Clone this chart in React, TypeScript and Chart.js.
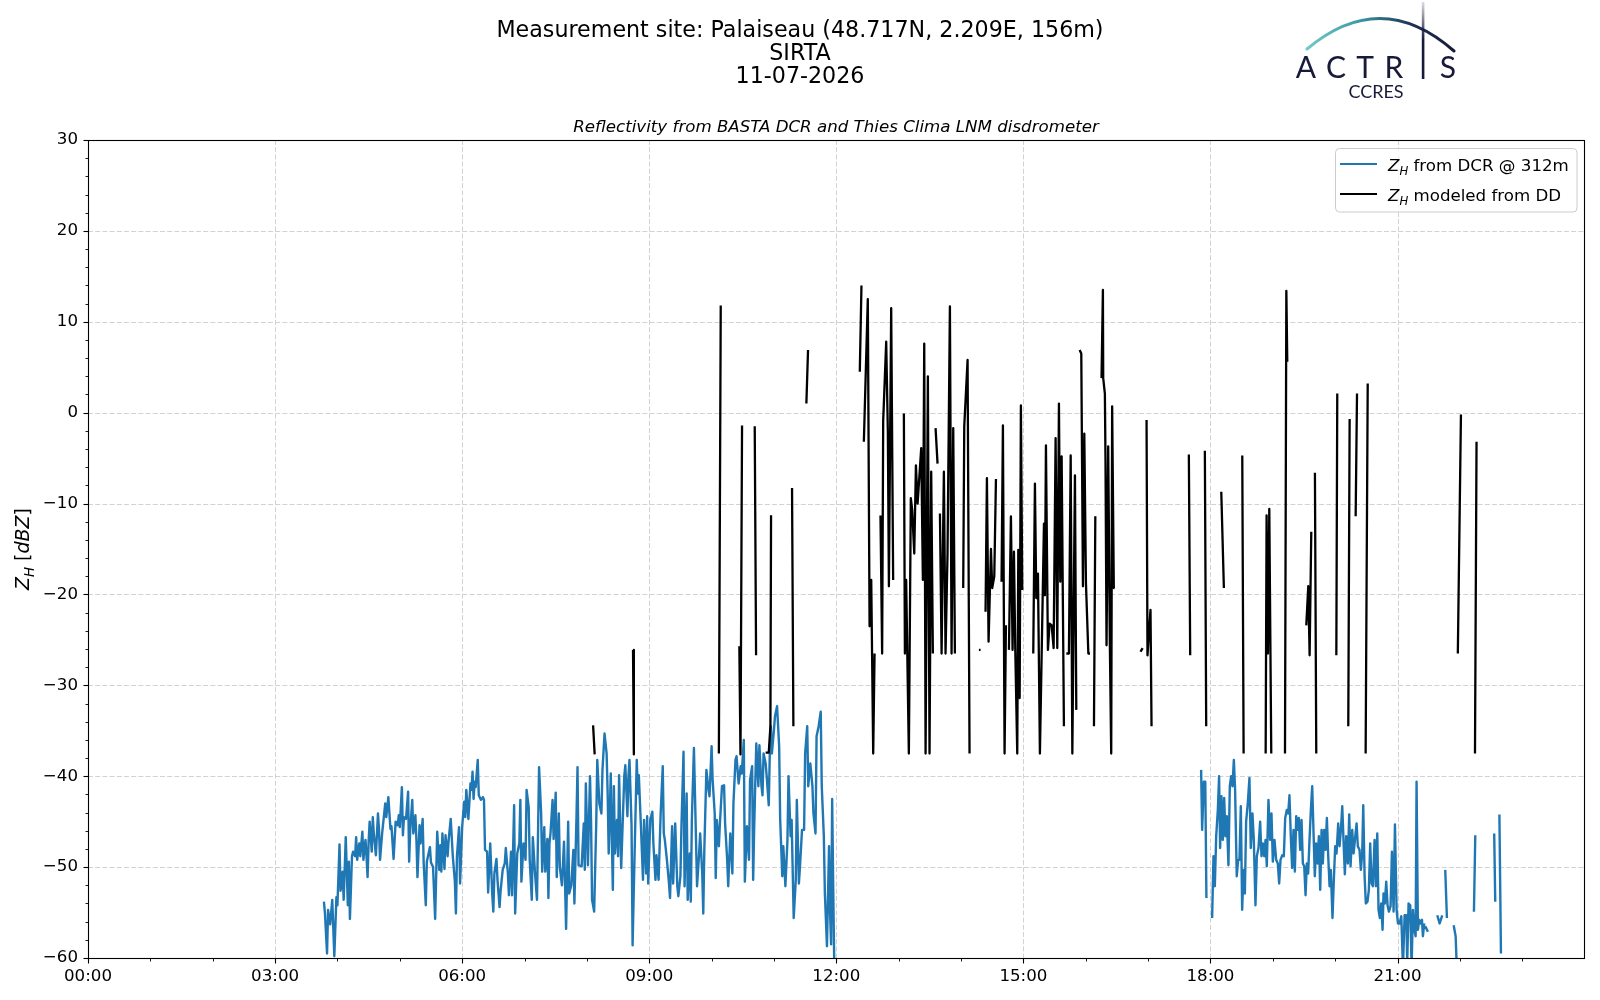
import React, { useEffect, useRef } from "react";
import { Chart, registerables } from "chart.js";

Chart.register(...registerables);

const FONT = '"DejaVu Sans", Verdana, sans-serif';
const LOGO_FONT = 'Lato, "Open Sans", sans-serif';
const BASE_SIZE = 16.67;

const TITLE_LINES = ["Measurement site: Palaiseau (48.717N, 2.209E, 156m)", "SIRTA", "11-07-2026"];
const AXES_TITLE = "Reflectivity from BASTA DCR and Thies Clima LNM disdrometer";
const X_MAJOR_HOURS = [0, 3, 6, 9, 12, 15, 18, 21];
const X_MINOR_HOURS = [1, 2, 4, 5, 7, 8, 10, 11, 13, 14, 16, 17, 19, 20, 22, 23];
const X_MIN = 0;
const X_MAX = 23.99;
const Y_TICKS = [-60, -50, -40, -30, -20, -10, 0, 10, 20, 30];
const Y_MIN = -60;
const Y_MAX = 30;

const DCR_COLOR = "#1f77b4";
const DD_COLOR = "#000000";
const GRID_COLOR = "#d2d2d2";

type Pt = [number, number];

// Z_H from DCR @ 312m : [minutes since 00:00, dBZ]
const dcrMorning: Pt[] = [
  [227, -53.8], [228, -55.1], [230, -59.5], [231, -54.7], [233, -56.3], [235, -53.6], [237, -59.8], [239, -53.3], [240, -54.2], [242, -47.5],
  [243, -52.6], [245, -50.5], [246, -53.6], [248, -46.7], [250, -54.2], [251, -49.4], [252, -55.7], [254, -48.8], [255, -48.3], [257, -48.8],
  [258, -46.7], [259, -49.2], [261, -47.4], [262, -48.8], [264, -46.1], [265, -49.2], [267, -47.0], [268, -48.8], [269, -51.1], [270, -47.2],
  [271, -45.0], [273, -48.3], [274, -44.5], [275, -46.3], [277, -48.7], [279, -44.1], [280, -45.9], [281, -49.2], [283, -46.3], [286, -43.0],
  [287, -44.5], [289, -42.3], [291, -45.8], [292, -45.5], [294, -49.1], [296, -45.0], [298, -45.4], [299, -44.3], [300, -45.6], [302, -41.2],
  [303, -46.5], [304, -44.5], [306, -44.7], [308, -41.7], [309, -49.4], [310, -45.9], [312, -42.6], [313, -46.3], [315, -44.3], [316, -47.0],
  [317, -51.1], [319, -45.4], [320, -47.4], [322, -44.7], [323, -49.6], [325, -54.2], [326, -49.4], [329, -47.8], [330, -49.5], [332, -50.0],
  [334, -55.7], [336, -46.1], [338, -50.3], [339, -47.6], [340, -50.5], [341, -46.3], [343, -50.2], [344, -46.5], [346, -48.8], [347, -47.0],
  [349, -44.7], [351, -48.8], [353, -51.6], [354, -55.1], [355, -48.8], [357, -45.6], [358, -51.8], [360, -45.6], [361, -44.1], [362, -42.8],
  [363, -44.5], [364, -41.5], [366, -44.7], [368, -40.8], [369, -41.5], [370, -39.5], [371, -42.5], [372, -40.6], [373, -41.2], [375, -38.2],
  [376, -42.1], [378, -42.6], [380, -42.3], [381, -42.6], [382, -48.1], [384, -48.3], [385, -52.8], [387, -47.4], [389, -53.1], [390, -54.9],
  [391, -50.7], [393, -49.1], [394, -51.4], [396, -54.4], [397, -52.6], [399, -50.3], [401, -49.6], [402, -47.9], [404, -50.7], [405, -53.1],
  [407, -48.3], [408, -53.1], [410, -43.2], [411, -55.1], [413, -48.5], [415, -47.4], [416, -42.6], [417, -51.6], [419, -47.4], [421, -49.2],
  [422, -41.5], [424, -43.4], [425, -49.2], [427, -53.6], [428, -46.7], [430, -50.5], [432, -53.6], [434, -39.0], [436, -44.1], [437, -50.5],
  [439, -45.6], [440, -50.5], [442, -46.9], [443, -53.4], [444, -47.4], [445, -46.3], [447, -42.6], [448, -46.9], [450, -41.8], [451, -51.1],
  [453, -44.1], [454, -50.0], [456, -52.0], [458, -47.2], [459, -51.8], [460, -56.8], [462, -45.0], [463, -52.9], [465, -52.0], [467, -48.1],
  [468, -54.0], [470, -44.5], [471, -39.0], [472, -49.8], [475, -49.9], [477, -45.2], [478, -50.3], [479, -40.8], [481, -49.8], [483, -40.0],
  [484, -44.8], [485, -53.6], [487, -54.9], [489, -45.2], [490, -38.2], [492, -43.0], [494, -44.1], [495, -39.3], [497, -35.3], [499, -37.5],
  [500, -41.9], [501, -48.5], [503, -39.7], [504, -47.0], [505, -52.5], [506, -41.1], [507, -48.5], [509, -44.8], [510, -48.8], [511, -39.9],
  [513, -50.1], [515, -43.3], [516, -40.0], [517, -38.8], [519, -44.4], [520, -40.0], [521, -38.2], [523, -45.5], [524, -58.6], [526, -48.1],
  [528, -38.2], [529, -41.9], [530, -39.9], [532, -45.5], [534, -51.4], [535, -44.8], [537, -50.7], [538, -44.4], [539, -51.8], [541, -44.8],
  [543, -43.9], [544, -47.4], [546, -51.4], [547, -48.7], [549, -51.4], [551, -44.1], [553, -38.9], [554, -46.3], [555, -47.0], [557, -49.2],
  [559, -51.8], [560, -53.4], [562, -45.5], [563, -51.8], [565, -45.2], [567, -52.1], [568, -53.2], [570, -51.0], [571, -45.5], [573, -37.3],
  [574, -52.1], [576, -41.9], [577, -53.6], [579, -48.5], [580, -53.8], [581, -44.8], [583, -36.9], [584, -41.9], [586, -52.1], [588, -48.5],
  [589, -46.3], [591, -50.7], [592, -55.1], [593, -48.1], [595, -39.3], [597, -41.5], [598, -42.2], [600, -36.7], [601, -40.4], [603, -44.1],
  [604, -51.2], [605, -44.8], [607, -47.7], [608, -45.2], [610, -41.1], [612, -41.0], [613, -45.2], [615, -49.2], [616, -52.1], [618, -46.3],
  [620, -50.7], [621, -43.0], [623, -38.2], [624, -37.8], [626, -40.8], [628, -38.9], [629, -39.7], [631, -36.0], [632, -51.6], [634, -45.5],
  [636, -49.2], [637, -40.4], [639, -38.9], [640, -51.4], [641, -45.5], [643, -36.4], [645, -41.1], [646, -36.6], [648, -41.1], [649, -42.1],
  [650, -37.5], [652, -38.6], [653, -40.0], [655, -43.2], [656, -37.5], [657, -34.5], [658, -37.5], [660, -34.9], [661, -33.4], [663, -32.3],
  [665, -36.7], [666, -44.8], [668, -51.0], [669, -47.7], [671, -52.1], [673, -47.0], [674, -40.0], [676, -46.6], [677, -44.8], [679, -55.6],
  [681, -51.4], [682, -42.6], [684, -51.8], [685, -50.0], [687, -45.9], [689, -45.9], [690, -37.5], [692, -34.5], [693, -41.1], [695, -38.6],
  [697, -41.1], [698, -44.1], [700, -46.3], [701, -35.6], [703, -34.5], [705, -32.9], [706, -41.1], [708, -46.6], [709, -52.9], [711, -58.7],
  [713, -47.7], [714, -55.0], [715, -58.5], [716, -42.5], [717, -52.0], [718, -60.5], [719, -61.0],
];

const dcrEveningStart: Pt[] = [
  [1071.0, -39.3], [1072.0, -45.9], [1073.6, -40.6], [1075.0, -40.6], [1076.1, -53.4],
];

const dcrEvening: Pt[] = [
  [1081.6, -55.6], [1082.9, -48.8], [1084.2, -52.1], [1085.5, -46.6], [1087.1, -43.7], [1088.3, -40.0], [1089.3, -47.9], [1090.6, -42.2],
  [1091.9, -47.0], [1093.2, -42.4], [1094.4, -46.6], [1095.7, -44.4], [1097.3, -49.8], [1098.6, -41.1], [1099.9, -40.0], [1101.2, -41.1],
  [1102.5, -38.2], [1103.7, -41.5], [1105.3, -51.0], [1106.6, -49.2], [1107.9, -49.2], [1109.2, -43.3], [1110.5, -54.7], [1111.8, -50.3],
  [1113.1, -52.9], [1114.3, -45.0], [1115.9, -43.0], [1117.5, -40.2], [1118.8, -47.9], [1120.4, -44.1], [1121.7, -47.0], [1123.3, -54.2],
  [1124.6, -48.8], [1126.2, -47.9], [1127.8, -45.0], [1129.1, -48.8], [1130.4, -47.4], [1131.7, -48.8], [1133.0, -47.0], [1134.2, -49.9],
  [1135.8, -42.6], [1137.4, -47.0], [1138.7, -44.1], [1140.0, -49.4], [1141.6, -47.0], [1143.2, -49.2], [1144.8, -49.6], [1146.1, -51.8],
  [1147.4, -49.2], [1149.0, -48.7], [1150.6, -48.8], [1151.9, -44.6], [1153.5, -43.7], [1154.8, -44.1], [1156.0, -42.1], [1157.3, -46.6],
  [1158.6, -50.1], [1159.9, -45.9], [1161.2, -50.5], [1162.5, -44.4], [1163.8, -45.9], [1165.0, -44.6], [1166.3, -48.1], [1167.6, -44.8],
  [1168.9, -49.6], [1170.2, -49.9], [1171.5, -53.1], [1172.7, -49.6], [1174.0, -50.7], [1175.3, -47.0], [1176.6, -43.7], [1177.9, -41.1],
  [1179.2, -46.3], [1180.4, -51.0], [1181.7, -47.4], [1183.0, -49.6], [1184.3, -46.6], [1185.6, -52.5], [1186.9, -45.9], [1188.1, -49.6],
  [1189.4, -45.9], [1190.7, -48.1], [1192.0, -44.6], [1193.3, -48.8], [1194.6, -52.1], [1195.8, -50.3], [1197.4, -55.6], [1198.7, -51.4],
  [1200.0, -47.7], [1201.3, -48.5], [1202.9, -45.2], [1204.2, -47.7], [1205.5, -45.9], [1206.8, -43.3], [1208.0, -47.0], [1209.3, -50.8],
  [1210.6, -46.6], [1212.2, -49.6], [1213.5, -44.2], [1214.8, -49.9], [1216.4, -45.9], [1217.7, -48.5], [1219.0, -47.0], [1220.6, -45.2],
  [1221.8, -47.7], [1223.4, -48.1], [1224.7, -50.3], [1226.0, -48.5], [1227.0, -43.2], [1228.3, -51.0], [1229.5, -54.0], [1231.1, -53.8],
  [1232.4, -52.5], [1233.7, -47.4], [1235.0, -51.8], [1236.3, -52.1], [1237.9, -47.0], [1239.2, -52.1], [1240.5, -46.3], [1241.7, -54.7],
  [1243.0, -55.6], [1244.3, -54.0], [1245.6, -56.9], [1246.5, -52.9], [1247.8, -54.0], [1249.1, -51.6], [1250.4, -54.2], [1251.7, -54.9],
  [1253.3, -54.3], [1254.6, -48.3], [1256.2, -54.9], [1257.5, -45.3], [1259.1, -54.7], [1260.4, -56.2], [1262.0, -56.2], [1263.6, -55.4],
  [1265.2, -61.0], [1266.8, -55.3], [1268.4, -55.3], [1269.3, -60.5], [1270.6, -54.0], [1272.2, -54.2], [1273.5, -61.0], [1274.8, -54.7],
  [1276.1, -56.9], [1277.4, -57.6], [1278.3, -40.6], [1279.6, -56.9], [1280.9, -55.8], [1282.2, -56.2], [1283.5, -55.8], [1284.4, -57.6],
  [1285.7, -56.2],
];

const dcrLateFragments: Pt[][] = [
  [[1286.7, -56.5], [1289.2, -57.1]],
  [[1298.2, -55.3], [1300.5, -56.2], [1303.0, -55.3]],
  [[1305.9, -50.3], [1307.5, -55.6]],
  [[1314.0, -56.4], [1315.9, -57.6], [1317.0, -61.0]],
  [[1333.5, -54.9], [1334.8, -46.5]],
  [[1353.0, -46.3], [1354.0, -53.8]],
  [[1358.0, -44.2], [1359.5, -59.5]],
];

// Z_H modeled from DD : segments of [minutes since 00:00, dBZ]
const ddSegments: Pt[][] = [
  [[486, -34.4], [487.5, -37.6]],
  [[524.4, -26.1], [525.2, -37.6]],
  [[607, -37.5], [608.8, 11.8]],
  [[626.7, -25.7], [627.8, -37.6], [629.3, -1.4]],
  [[641.5, -1.5], [642.8, -26.7]],
  [[652, -37.4], [655, -37.4], [656.6, -34.5], [657.2, -11.3]],
  [[677.4, -8.3], [678.7, -34.5]],
  [[691.2, 1.0], [692.8, 6.9]],
  [[742.6, 4.5], [744.2, 14.0]],
  [[746.5, -3.2], [750.3, 12.5], [752.0, -23.5], [753.6, -18.4], [755.5, -37.5], [756.8, -26.5]],
  [[762.5, -11.3], [764.1, -26.5], [765.1, -0.9], [768.0, 7.8], [769.6, -2.2], [770.6, -19.1], [772.8, 11.5], [774.7, -18.4]],
  [[785.0, -0.1], [786.0, -26.5], [787.2, -18.4], [789.8, -37.5], [791.7, -9.4], [793.0, -10.7], [795.0, -15.5], [796.6, -5.8],
   [798.2, -10.0], [801.7, -3.9], [803.3, -18.4], [804.6, 7.6], [805.9, -37.5], [808.1, 4.0], [809.7, -37.5], [811.3, -6.5], [812.9, -26.5]],
  [[815.5, -1.7], [817.4, -5.6]],
  [[819.7, -11.1], [821.3, -26.5], [823.5, -6.5], [825.1, -26.5], [827.0, -15.5], [829.3, 11.7], [830.9, -26.5], [832.5, -1.7], [834.1, -26.5]],
  [[842.1, -19.3], [843.1, -1.5], [846.3, 5.8], [848.2, -37.5]],
  [[857.2, -26.1], [858.8, -26.1]],
  [[863.6, -21.9], [864.9, -7.2], [866.5, -25.2], [868.8, -15.0], [870.0, -19.3], [872.0, -18.0], [873.6, -7.3]],
  [[879.0, -18.6], [880.3, -1.4], [881.9, -37.5], [883.2, -23.4]],
  [[886.1, -26.1], [888.0, -11.4], [889.6, -26.1], [890.9, -15.3], [892.2, -26.1], [894.1, -37.5], [895.1, -15.1], [896.4, -31.4],
   [897.6, 0.8], [898.9, -19.5]],
  [[909.5, -26.5], [911.1, -7.8], [912.4, -20.4], [914.0, -17.7], [915.9, -37.5], [919.8, -12.2], [920.7, -20.1], [921.7, -3.6],
   [923.6, -26.1], [925.2, -23.2], [927.2, -23.4], [929.1, -25.9], [931.0, -2.8], [932.6, -25.9], [934.2, 1.0], [935.5, -18.6],
   [936.8, -4.8], [939.0, -34.5]],
  [[941.3, -26.5], [943.8, -26.5], [945.5, -4.7], [947.1, -37.5], [949.6, -6.9], [950.9, -32.7]],
  [[954.1, 6.9], [955.7, 6.5], [957.3, -19.1], [958.6, -2.3], [960.2, -18.8], [962.5, -26.5], [964.1, -26.5]],
  [[967.9, -34.5], [969.2, -11.4]],
  [[975.2, 3.8], [976.5, 13.5], [976.8, 3.8], [978.4, 2.1], [979.0, -5.2], [980.0, -25.6], [981.6, -3.7], [983.2, -25.6],
   [984.5, -37.5], [985.4, 0.7], [987.0, -19.3], [987.7, -19.3]],
  [[1012.7, -26.3], [1014.7, -25.9]],
  [[1018.5, -0.8], [1019.4, -26.7], [1022.3, -21.7], [1023.3, -34.5]],
  [[1059.2, -4.6], [1060.5, -26.7]],
  [[1074.6, -4.2], [1075.9, -34.5]],
  [[1090.4, -8.7], [1092.9, -19.3]],
  [[1110.6, -4.7], [1111.9, -37.5]],
  [[1133.1, -37.5], [1134.0, -11.3], [1135.3, -26.5], [1136.6, -10.6], [1138.5, -37.5]],
  [[1151.7, -37.5], [1153.0, 13.4], [1153.9, 5.6]],
  [[1172.2, -23.4], [1174.1, -19.1], [1175.4, -26.7], [1177.0, -13.1]],
  [[1180.5, -6.6], [1181.8, -37.5]],
  [[1201.1, -26.7], [1202.0, 2.1]],
  [[1212.6, -34.5], [1213.9, -0.7]],
  [[1219.7, -11.4], [1221.0, 2.1]],
  [[1229.3, -37.5], [1231.3, 3.2]],
  [[1318, -26.5], [1321, -0.2]],
  [[1334.5, -37.5], [1336, -3.2]],
];

type Part = { t: string; it?: boolean; sub?: boolean };
const LEGEND_ITEMS: { color: string; parts: Part[] }[] = [
  { color: DCR_COLOR, parts: [{ t: "Z", it: true }, { t: "H", it: true, sub: true }, { t: " from DCR @ 312m" }] },
  { color: DD_COLOR, parts: [{ t: "Z", it: true }, { t: "H", it: true, sub: true }, { t: " modeled from DD" }] },
];
const Y_LABEL: Part[] = [{ t: "Z", it: true }, { t: "H", it: true, sub: true }, { t: " [" }, { t: "dBZ", it: true }, { t: "]" }];

function segmentsToPoints(segments: Pt[][]) {
  const out: { x: number; y: number | null }[] = [];
  segments.forEach((seg, i) => {
    if (i > 0) {
      const prev = segments[i - 1][segments[i - 1].length - 1][0];
      out.push({ x: (prev + seg[0][0]) / 2 / 60, y: null });
    }
    seg.forEach(([m, v]) => out.push({ x: m / 60, y: v }));
  });
  return out;
}

function partsWidth(ctx: CanvasRenderingContext2D, parts: Part[], size: number) {
  let w = 0;
  for (const p of parts) {
    const fs = p.sub ? size * 0.7 : size;
    ctx.font = `${p.it ? "italic " : ""}${fs}px ${FONT}`;
    w += ctx.measureText(p.t).width;
  }
  return w;
}

function drawParts(ctx: CanvasRenderingContext2D, parts: Part[], x: number, baseline: number, size: number) {
  let cx = x;
  ctx.textAlign = "left";
  ctx.textBaseline = "alphabetic";
  for (const p of parts) {
    const fs = p.sub ? size * 0.7 : size;
    ctx.font = `${p.it ? "italic " : ""}${fs}px ${FONT}`;
    ctx.fillText(p.t, cx, baseline + (p.sub ? size * 0.22 : 0));
    cx += ctx.measureText(p.t).width;
  }
}

function drawLogo(ctx: CanvasRenderingContext2D) {
  ctx.save();
  const grad = ctx.createLinearGradient(1306, 0, 1458, 0);
  grad.addColorStop(0, "#74cbc6");
  grad.addColorStop(0.35, "#3b9aa3");
  grad.addColorStop(0.7, "#1d2f52");
  grad.addColorStop(1, "#171a38");
  ctx.strokeStyle = grad;
  ctx.lineWidth = 3;
  ctx.lineCap = "round";
  ctx.beginPath();
  ctx.moveTo(1307, 49);
  ctx.quadraticCurveTo(1381, -13, 1454, 51);
  ctx.stroke();
  const stem = ctx.createLinearGradient(0, 2, 0, 40);
  stem.addColorStop(0, "rgba(23,26,56,0.15)");
  stem.addColorStop(1, "#171a38");
  ctx.fillStyle = stem;
  ctx.fillRect(1421.8, 2, 2.6, 77);
  ctx.fillStyle = "#171a38";
  ctx.font = `30px ${LOGO_FONT}`;
  ctx.textAlign = "center";
  ctx.textBaseline = "alphabetic";
  const letters = ["A", "C", "T", "R", "S"];
  const centers = [1306, 1336, 1365, 1394, 1448];
  letters.forEach((l, i) => ctx.fillText(l, centers[i], 78));
  ctx.font = `18px ${LOGO_FONT}`;
  ctx.fillText("CCRES", 1376, 98);
  ctx.restore();
}

const decorPlugin = {
  id: "decor",
  beforeDatasetsDraw(chart: any) {
    const { ctx, chartArea: a } = chart;
    const xs = chart.scales.x;
    const ys = chart.scales.y;
    ctx.save();
    ctx.strokeStyle = GRID_COLOR;
    ctx.lineWidth = 1;
    ctx.setLineDash([5, 2.2]);
    for (const h of X_MAJOR_HOURS) {
      if (h === 0) continue;
      const px = Math.round(xs.getPixelForValue(h)) + 0.5;
      ctx.beginPath();
      ctx.moveTo(px, a.top);
      ctx.lineTo(px, a.bottom);
      ctx.stroke();
    }
    for (const v of Y_TICKS) {
      if (v === Y_MIN || v === Y_MAX) continue;
      const py = Math.round(ys.getPixelForValue(v)) + 0.5;
      ctx.beginPath();
      ctx.moveTo(a.left, py);
      ctx.lineTo(a.right, py);
      ctx.stroke();
    }
    ctx.restore();
  },
  afterDatasetsDraw(chart: any) {
    const { ctx, chartArea: a } = chart;
    const xs = chart.scales.x;
    const ys = chart.scales.y;
    ctx.save();
    ctx.setLineDash([]);
    ctx.strokeStyle = "#000";
    ctx.lineWidth = 1.1;
    ctx.strokeRect(Math.round(a.left) + 0.5, Math.round(a.top) + 0.5, Math.round(a.right - a.left), Math.round(a.bottom - a.top));
    const tick = (x1: number, y1: number, x2: number, y2: number, w: number) => {
      ctx.lineWidth = w;
      ctx.beginPath();
      ctx.moveTo(x1, y1);
      ctx.lineTo(x2, y2);
      ctx.stroke();
    };
    const bottom = Math.round(a.bottom) + 0.5;
    const left = Math.round(a.left) + 0.5;
    for (const h of X_MAJOR_HOURS) {
      const px = Math.round(xs.getPixelForValue(h)) + 0.5;
      tick(px, bottom, px, bottom + 5, 1.1);
    }
    for (const h of X_MINOR_HOURS) {
      const px = Math.round(xs.getPixelForValue(h)) + 0.5;
      tick(px, bottom, px, bottom + 3, 0.9);
    }
    for (let v = Y_MIN; v <= Y_MAX; v += 2) {
      const py = Math.round(ys.getPixelForValue(v)) + 0.5;
      if (v % 10 === 0) tick(left - 5, py, left, py, 1.1);
      else tick(left - 3, py, left, py, 0.9);
    }
    ctx.restore();
  },
  afterDraw(chart: any) {
    const { ctx, chartArea: a } = chart;
    ctx.save();
    ctx.fillStyle = "#000";
    // suptitle
    ctx.font = `22.2px ${FONT}`;
    ctx.textAlign = "center";
    ctx.textBaseline = "alphabetic";
    const titleBase = [36.8, 59.6, 82.6];
    TITLE_LINES.forEach((t, i) => ctx.fillText(t, 800, titleBase[i]));
    // axes title
    ctx.font = `italic ${BASE_SIZE}px ${FONT}`;
    ctx.fillText(AXES_TITLE, (a.left + a.right) / 2, 131.7);
    // y label
    ctx.save();
    const ySize = 19;
    ctx.translate(22.5, (a.top + a.bottom) / 2);
    ctx.rotate(-Math.PI / 2);
    const yw = partsWidth(ctx, Y_LABEL, ySize);
    drawParts(ctx, Y_LABEL, -yw / 2, ySize * 0.36, ySize);
    ctx.restore();
    // legend
    const lx = 1335.5, ly = 148.5, lw = 241.5, lh = 63.5;
    ctx.beginPath();
    if ((ctx as any).roundRect) (ctx as any).roundRect(lx, ly, lw, lh, 4);
    else ctx.rect(lx, ly, lw, lh);
    ctx.fillStyle = "rgba(255,255,255,0.8)";
    ctx.fill();
    ctx.strokeStyle = "#cccccc";
    ctx.lineWidth = 1;
    ctx.stroke();
    const rowY = [164, 194];
    LEGEND_ITEMS.forEach((item, i) => {
      ctx.strokeStyle = item.color;
      ctx.lineWidth = 2.2;
      ctx.beginPath();
      ctx.moveTo(1340, rowY[i]);
      ctx.lineTo(1377, rowY[i]);
      ctx.stroke();
      ctx.fillStyle = "#000";
      drawParts(ctx, item.parts, 1388, rowY[i] + 7, BASE_SIZE);
    });
    ctx.restore();
    drawLogo(ctx);
  },
};

export default function App() {
  const ref = useRef<HTMLCanvasElement>(null);
  useEffect(() => {
    if (!ref.current) return;
    Chart.defaults.font.family = FONT;
    const dcrData = segmentsToPoints([dcrMorning, dcrEveningStart, dcrEvening, ...dcrLateFragments]);
    const ddData = segmentsToPoints(ddSegments);
    const fmtHour = (v: number) => `${String(Math.round(v)).padStart(2, "0")}:00`;
    const fmtY = (v: number) => (v < 0 ? `\u2212${Math.abs(v)}` : `${v}`);
    const chart = new Chart(ref.current, {
      type: "line",
      data: {
        datasets: [
          {
            label: "Z_H from DCR @ 312m",
            data: dcrData as any,
            borderColor: DCR_COLOR,
            borderWidth: 2.4,
            pointRadius: 0,
            tension: 0,
            spanGaps: false,
            clip: 0 as any,
            borderJoinStyle: "round",
            order: 1,
          },
          {
            label: "Z_H modeled from DD",
            data: ddData as any,
            borderColor: DD_COLOR,
            borderWidth: 2.3,
            pointRadius: 0,
            tension: 0,
            spanGaps: false,
            clip: 0 as any,
            borderJoinStyle: "round",
            order: 0,
          },
        ],
      },
      options: {
        animation: false,
        responsive: false,
        events: [],
        layout: { padding: { top: 140, right: 16, left: 0, bottom: 0 } },
        plugins: { legend: { display: false }, tooltip: { enabled: false }, title: { display: false } },
        scales: {
          x: {
            type: "linear",
            min: X_MIN,
            max: X_MAX,
            grid: { display: false, drawTicks: false },
            border: { display: false },
            ticks: {
              autoSkip: false,
              maxRotation: 0,
              padding: 9,
              color: "#000",
              font: { family: FONT, size: BASE_SIZE },
              callback: (v: any) => fmtHour(Number(v)),
            },
            afterBuildTicks: (s: any) => {
              s.ticks = X_MAJOR_HOURS.map((v) => ({ value: v }));
            },
            afterFit: (s: any) => {
              s.height = 42;
            },
          },
          y: {
            type: "linear",
            min: Y_MIN,
            max: Y_MAX,
            grid: { display: false, drawTicks: false },
            border: { display: false },
            ticks: {
              padding: 10,
              color: "#000",
              font: { family: FONT, size: BASE_SIZE },
              callback: (v: any) => fmtY(Number(v)),
            },
            afterBuildTicks: (s: any) => {
              s.ticks = Y_TICKS.map((v) => ({ value: v }));
            },
            afterFit: (s: any) => {
              s.width = 88;
            },
          },
        },
      },
      plugins: [decorPlugin],
    });
    return () => chart.destroy();
  }, []);
  return (
    <div style={{ position: "absolute", left: 0, top: 0, width: 1600, height: 1000, background: "#fff" }}>
      <canvas ref={ref} width={1600} height={1000} style={{ display: "block", width: 1600, height: 1000 }} />
    </div>
  );
}
